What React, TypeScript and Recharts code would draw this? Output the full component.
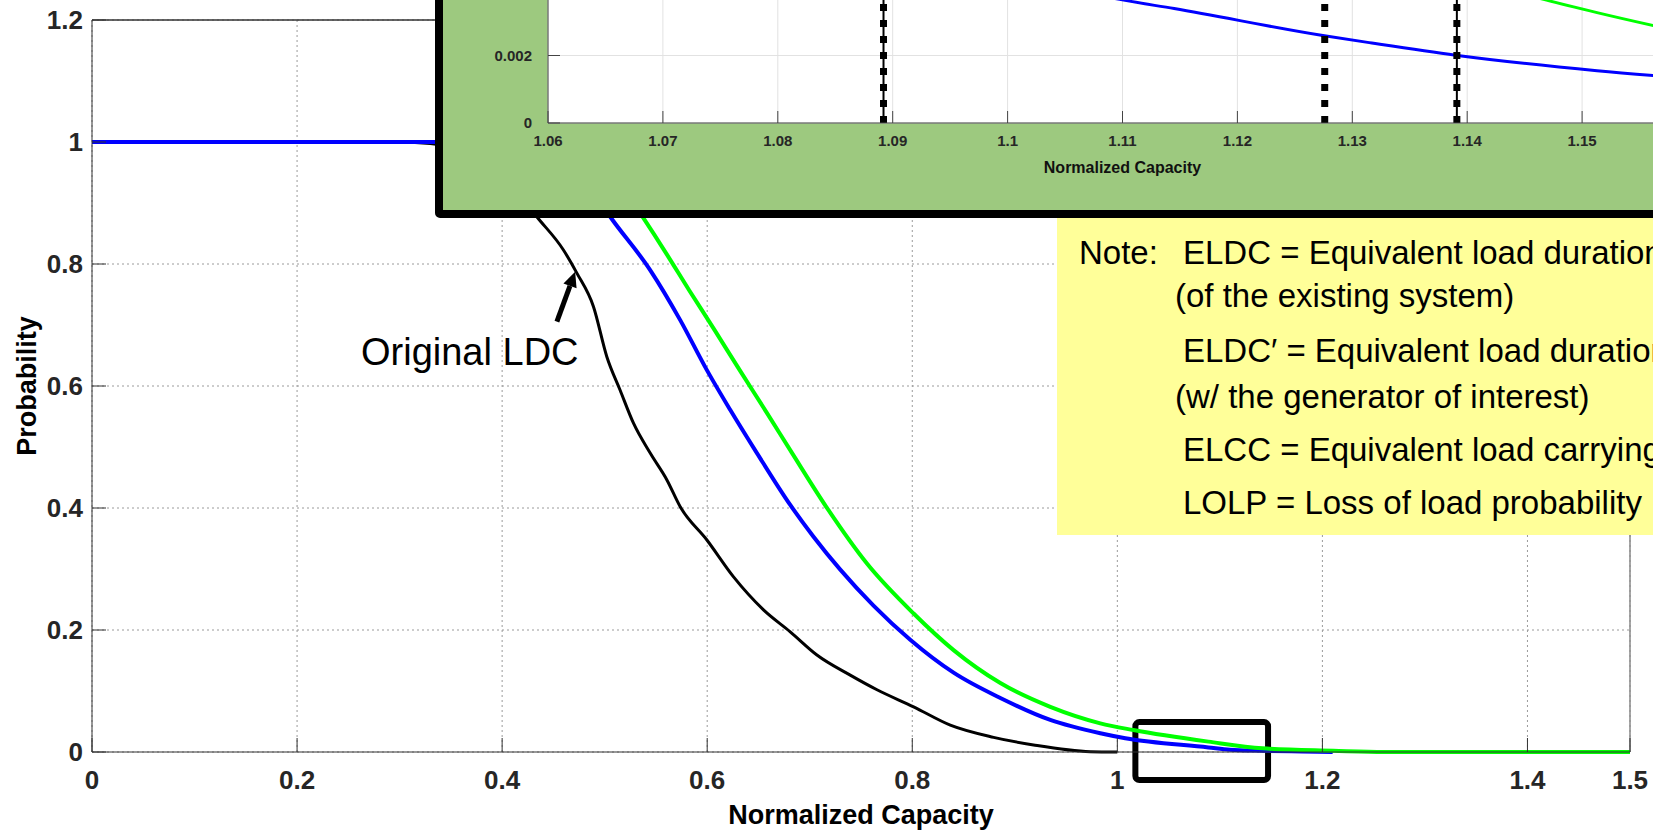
import React from 'react'
import {
  LineChart, Line, XAxis, YAxis, CartesianGrid, ReferenceLine, ReferenceArea,
} from 'recharts'

// main chart: normalized capacity vs probability
const xTicks = [0, 0.2, 0.4, 0.6, 0.8, 1, 1.2, 1.4, 1.5]
const yTicks = [0, 0.2, 0.4, 0.6, 0.8, 1, 1.2]

// original load duration curve (black)
const ldcX = [0, 0.3, 0.36, 0.4, 0.4338, 0.4598, 0.4729, 0.4891, 0.5021, 0.5151, 0.5281, 0.5444, 0.5607, 0.5737, 0.5997, 0.6257, 0.6549, 0.681, 0.707, 0.7395, 0.7656, 0.8013, 0.8371, 0.8793, 0.9183, 0.9737, 1.0]
const ldcY = [1, 1, 0.99, 0.95, 0.8775, 0.823, 0.785, 0.73, 0.648, 0.593, 0.539, 0.49, 0.446, 0.402, 0.3475, 0.287, 0.233, 0.197, 0.159, 0.126, 0.102, 0.074, 0.044, 0.024, 0.0115, 0.0005, 0]

// ELDC (blue)
const eldcX = [0, 0.42, 0.45, 0.475, 0.49, 0.5054, 0.5444, 0.5737, 0.5997, 0.6224, 0.6485, 0.681, 0.7037, 0.7298, 0.7622, 0.798, 0.8403, 0.8859, 0.9346, 0.9834, 1.0078, 1.0888, 1.11, 1.14, 1.18, 1.21]
const eldcY = [1, 1, 0.985, 0.95, 0.915, 0.8775, 0.79, 0.708, 0.626, 0.561, 0.49, 0.405, 0.353, 0.299, 0.24, 0.184, 0.13, 0.0885, 0.0525, 0.0307, 0.0225, 0.0075, 0.0036, 0.002, 0.0008, 0]

// ELDC' (green)
const eldc2X = [0.42, 0.47, 0.5, 0.52, 0.5369, 0.56, 0.5824, 0.6071, 0.6317, 0.6582, 0.6828, 0.7161, 0.7558, 0.8013, 0.8403, 0.8859, 0.9346, 0.9834, 1.0156, 1.0888, 1.1415, 1.2107, 1.26, 1.5]
const eldc2Y = [1, 0.985, 0.955, 0.92, 0.8775, 0.8175, 0.757, 0.692, 0.626, 0.556, 0.49, 0.402, 0.309, 0.227, 0.167, 0.113, 0.074, 0.047, 0.036, 0.017, 0.006, 0.002, 0, 0]

const zoomBox = { x1: 1.0176, x2: 1.147, y1: -0.046, y2: 0.049 }
const arrowSeg = [{ x: 0.4534, y: 0.7054 }, { x: 0.4712, y: 0.7874 }]

// inset (zoom near the tail)
const insetXTicks = [1.06, 1.07, 1.08, 1.09, 1.1, 1.11, 1.12, 1.13, 1.14, 1.15]
const insetYTicks = [0, 0.002]
const insetBlueX = [1.105, 1.1101, 1.1145, 1.1273, 1.1317, 1.139, 1.1513, 1.16]
const insetBlueY = [0.004, 0.00364, 0.00339, 0.0026, 0.00237, 0.00201, 0.00155, 0.0013]
const insetGreenX = [1.143, 1.1469, 1.1513, 1.16]
const insetGreenY = [0.004, 0.00364, 0.00327, 0.0026]
const insetMarks = [1.0892, 1.1276, 1.1391]
const insetMarksSolid = [1.0892, 1.1391]

const pts = (xs: number[], ys: number[]) => xs.map((x, i) => ({ x, y: ys[i] }))

const Arrow = (p: any) => {
  const { x1, y1, x2, y2 } = p
  const a = Math.atan2(y2 - y1, x2 - x1)
  const L = 15, W = 7
  const bx = x2 - L * Math.cos(a), by = y2 - L * Math.sin(a)
  const nx = -Math.sin(a) * W, ny = Math.cos(a) * W
  return (
    <g>
      <line x1={x1} y1={y1} x2={bx} y2={by} stroke="#000" strokeWidth={5} />
      <polygon points={`${x2},${y2} ${bx + nx},${by + ny} ${bx - nx},${by - ny}`} fill="#000" />
    </g>
  )
}

const tickStyle = { fill: '#262626', fontSize: 26, fontWeight: 700 }
const insetTick = { fill: '#262626', fontSize: 15, fontWeight: 700 }

const noteLine = (top: number, left: number): React.CSSProperties => ({
  position: 'absolute', left, top, fontSize: 33, lineHeight: '33px', whiteSpace: 'nowrap', color: '#000',
})

export default function App() {
  return (
    <div style={{
      position: 'absolute', left: 0, top: 0, width: 1653, height: 830, overflow: 'hidden',
      background: '#fff', fontFamily: '"Liberation Sans", Arial, sans-serif',
    }}>
      <LineChart width={1653} height={830} margin={{ top: 20, right: 23, bottom: 0, left: 0 }}>
        <CartesianGrid stroke="#9a9a9a" strokeDasharray="2 3" />
        <XAxis
          type="number" dataKey="x" domain={[0, 1.5]} ticks={xTicks} interval={0}
          height={78} tickSize={-14} tickMargin={33} stroke="#333" tick={tickStyle}
          tickFormatter={(v) => String(v)}
          label={{ value: 'Normalized Capacity', position: 'insideBottom', offset: 6, fill: '#000', fontSize: 27, fontWeight: 700 }}
        />
        <YAxis
          type="number" domain={[0, 1.2]} ticks={yTicks} interval={0}
          width={92} tickSize={-14} tickMargin={23} stroke="#333" tick={tickStyle}
          tickFormatter={(v) => String(v)}
          label={{ value: 'Probability', angle: -90, position: 'insideLeft', offset: 26, fill: '#000', fontSize: 27, fontWeight: 700, style: { textAnchor: 'middle' } }}
        />
        <ReferenceLine y={1.2} stroke="#333" strokeWidth={1.5} />
        <ReferenceLine x={1.5} stroke="#888" strokeWidth={1.5} />
        <Line data={pts(ldcX, ldcY)} dataKey="y" type="monotone" stroke="#000" strokeWidth={3} dot={false} isAnimationActive={false} />
        <Line data={pts(eldcX, eldcY)} dataKey="y" type="monotone" stroke="#0000ff" strokeWidth={4} dot={false} isAnimationActive={false} />
        <Line data={pts(eldc2X, eldc2Y)} dataKey="y" type="monotone" stroke="#00ff00" strokeWidth={4} dot={false} isAnimationActive={false} />
        <ReferenceArea {...zoomBox} ifOverflow="visible" fill="none" stroke="#000" strokeWidth={6} radius={4} />
        <ReferenceLine segment={arrowSeg} shape={Arrow} />
      </LineChart>

      <div style={{
        position: 'absolute', left: 435, top: -100, width: 1400, height: 318, boxSizing: 'border-box',
        border: '8px solid #000', borderRadius: 5, background: '#9dc97f',
      }} />
      <div style={{ position: 'absolute', left: 443, top: -40 }}>
        <LineChart width={1254} height={250} margin={{ top: 28, right: 0, bottom: 0, left: 0 }}>
          <CartesianGrid stroke="#e2e2e2" fill="#fff" />
          <XAxis
            type="number" dataKey="x" domain={[1.06, 1.155]} ticks={insetXTicks} interval={0}
            height={87} tickSize={-12} tickMargin={24} stroke="#444" tick={insetTick}
            tickFormatter={(v) => String(v)}
            label={{ value: 'Normalized Capacity', position: 'insideBottom', offset: 37, fill: '#111', fontSize: 16, fontWeight: 700 }}
          />
          <YAxis
            type="number" domain={[0, 0.004]} ticks={insetYTicks} interval={0}
            width={105} tickSize={-12} tickMargin={28} stroke="#444" tick={insetTick}
            tickFormatter={(v) => String(v)}
          />
          <Line data={pts(insetBlueX, insetBlueY)} dataKey="y" type="monotone" stroke="#0000ff" strokeWidth={3} dot={false} isAnimationActive={false} />
          <Line data={pts(insetGreenX, insetGreenY)} dataKey="y" type="monotone" stroke="#00ff00" strokeWidth={3} dot={false} isAnimationActive={false} />
          {insetMarksSolid.map((x) => (
            <ReferenceLine key={'s' + x} x={x} stroke="#000" strokeWidth={2} />
          ))}
          {insetMarks.map((x) => (
            <ReferenceLine key={'d' + x} x={x} stroke="#000" strokeWidth={7} strokeDasharray="7 9" />
          ))}
        </LineChart>
      </div>

      <div style={{ position: 'absolute', left: 1057, top: 218, width: 700, height: 317, background: '#ffff99' }} />
      <div style={noteLine(236, 1079)}>Note:</div>
      <div style={noteLine(236, 1183)}>ELDC = Equivalent load duration curve</div>
      <div style={noteLine(279, 1175)}>(of the existing system)</div>
      <div style={noteLine(334, 1183)}>ELDC′ = Equivalent load duration curve</div>
      <div style={noteLine(380, 1175)}>(w/ the generator of interest)</div>
      <div style={noteLine(433, 1183)}>ELCC = Equivalent load carrying capability</div>
      <div style={noteLine(486, 1183)}>LOLP = Loss of load probability</div>

      <div style={{ position: 'absolute', left: 361, top: 333, fontSize: 38, lineHeight: '38px', color: '#000', whiteSpace: 'nowrap' }}>
        Original LDC
      </div>
    </div>
  )
}
